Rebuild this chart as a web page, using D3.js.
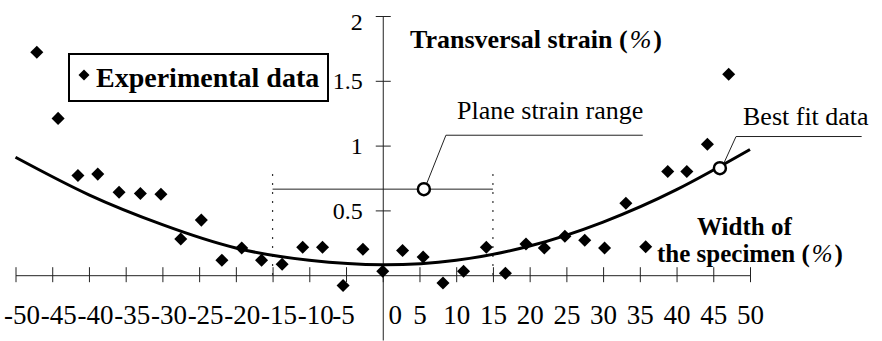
<!DOCTYPE html>
<html>
<head>
<meta charset="utf-8">
<script src="https://cdn.jsdelivr.net/npm/d3@7"></script>
<style>
  body { margin: 0; background: #fff; }
  svg { display: block; font-family: "Liberation Serif", "Times New Roman", serif; }
</style>
</head>
<body>
<div class="canvas"></div>
<script>
// experimental data
const widthPct = [-47.1, -44.2, -41.5, -38.8, -35.9, -33.0, -30.2, -27.5, -24.7, -21.9, -19.2, -16.5,
  -13.7, -10.9, -8.2, -5.4, -2.7, 0, 2.7, 5.5, 8.2, 11.0, 14.1, 16.7, 19.5, 22.0, 24.8, 27.5, 30.2,
  33.1, 35.8, 38.8, 41.4, 44.2, 47.1];
const strain = [1.72, 1.21, 0.77, 0.78, 0.64, 0.63, 0.625, 0.28, 0.425, 0.116, 0.21, 0.116,
  0.085, 0.216, 0.216, -0.08, 0.2, 0.03, 0.19, 0.14, -0.06, 0.03, 0.216, 0.015, 0.24, 0.21, 0.30, 0.27, 0.21,
  0.555, 0.22, 0.80, 0.80, 1.01, 1.55];

// best fit curve
const fitX = [-50, -40, -30, -20, -10, 0, 10, 20, 30, 40, 50];
const fitY = [0.91, 0.62, 0.39, 0.21, 0.115, 0.08, 0.115, 0.225, 0.41, 0.66, 0.97];

// marked points
const bestFit = [45.9, 0.826];
const planeStrain = { from: -15, to: 15, level: 0.664, top: 0.78, mark: 5.6 };

// ticks
const xTicks = [-50, -45, -40, -35, -30, -25, -20, -15, -10, -5, 0, 5, 10, 15, 20, 25, 30, 35, 40, 45, 50];
const yTicks = [0.5, 1, 1.5, 2];

const width = 882, height = 341;

const svg = d3.select('.canvas')
  .append('svg')
  .attr('width', width)
  .attr('height', height);

// scales
const x = d3.scaleLinear().domain([-50, 50]).range([15.5, 750]);
const y = d3.scaleLinear().domain([-0.5, 2]).range([340, 16]);

// x axis
const xAxis = d3.axisBottom(x)
  .tickValues(xTicks)
  .tickSize(8)
  .tickPadding(22)
  .tickSizeOuter(0)
  .tickFormat(d => d);

const xaxisGroup = svg.append('g')
  .attr('transform', `translate(0, ${y(0)})`)
  .call(xAxis);

xaxisGroup.select('.domain').attr('stroke', '#222');
xaxisGroup.selectAll('.tick line')
  .attr('y1', -8).attr('y2', 7).attr('stroke', '#222');
xaxisGroup.selectAll('.tick text')
  .attr('font-size', 27)
  .attr('font-family', '"Liberation Serif", "Times New Roman", serif')
  .attr('fill', '#000')
  .attr('dx', d => d === 0 ? 12 : d === -5 ? -3 : d < 0 ? 6 : 0);

// y axis
const yAxis = d3.axisLeft(y)
  .tickValues(yTicks)
  .tickSize(7)
  .tickPadding(13)
  .tickSizeOuter(0)
  .tickFormat(d => d);

const yaxisGroup = svg.append('g')
  .attr('transform', `translate(${x(0)}, 0)`)
  .call(yAxis);

yaxisGroup.select('.domain').attr('stroke', '#222');
yaxisGroup.selectAll('.tick line')
  .attr('x1', -7).attr('x2', 8).attr('stroke', '#222');
yaxisGroup.selectAll('.tick text')
  .attr('font-size', 24)
  .attr('font-family', '"Liberation Serif", "Times New Roman", serif')
  .attr('fill', '#000')
  .attr('dy', d => d === 2 ? '0.55em' : '0.32em');

// plane strain range bracket
const ps = svg.append('g');
ps.selectAll('line.dot')
  .data([planeStrain.from, planeStrain.to])
  .enter().append('line')
    .attr('x1', d => x(d)).attr('x2', d => x(d))
    .attr('y1', y(planeStrain.top)).attr('y2', y(0))
    .attr('stroke', '#333')
    .attr('stroke-width', 1.2)
    .attr('stroke-dasharray', '2,7');
ps.append('line')
  .attr('x1', x(planeStrain.from)).attr('x2', x(planeStrain.to))
  .attr('y1', y(planeStrain.level)).attr('y2', y(planeStrain.level))
  .attr('stroke', '#222');

// fitted curve
const line = d3.line()
  .curve(d3.curveNatural)
  .x(d => x(d[0]))
  .y(d => y(d[1]));

svg.append('path')
  .datum(fitX.map((v, i) => [v, fitY[i]]))
  .attr('fill', 'none')
  .attr('stroke', '#000')
  .attr('stroke-width', 3)
  .attr('d', line);

// annotation leaders
svg.append('path')
  .attr('fill', 'none')
  .attr('stroke', '#222')
  .attr('d', `M${x(planeStrain.mark) + 3},${y(planeStrain.level) - 6} L${x(8.6)},${y(1.08)} H${x(35.4)}`);

svg.append('path')
  .attr('fill', 'none')
  .attr('stroke', '#222')
  .attr('d', `M${x(bestFit[0]) + 4},${y(bestFit[1]) - 5} L${x(48.1)},${y(1.07)} H${x(65.2)}`);

// experimental points
const diamond = d3.symbol().type(d3.symbolSquare).size(85);

svg.append('g')
  .selectAll('path')
  .data(widthPct.map((v, i) => [v, strain[i]]))
  .enter().append('path')
    .attr('d', diamond)
    .attr('transform', d => `translate(${x(d[0])}, ${y(d[1])}) rotate(45)`)
    .attr('fill', '#000');

// open circles
svg.append('g')
  .selectAll('circle')
  .data([[planeStrain.mark, planeStrain.level], bestFit])
  .enter().append('circle')
    .attr('cx', d => x(d[0]))
    .attr('cy', d => y(d[1]))
    .attr('r', 6)
    .attr('fill', '#fff')
    .attr('stroke', '#000')
    .attr('stroke-width', 2.5);

// texts
svg.append('text')
  .attr('x', 457).attr('y', 119)
  .attr('font-size', 26)
  .text('Plane strain range');

svg.append('text')
  .attr('x', 743).attr('y', 125)
  .attr('font-size', 26)
  .text('Best fit data');

// bold label with a lighter, italic percent sign
const pctLabel = (sel) => {
  sel.append('tspan').text(' (');
  sel.append('tspan').attr('font-weight', 'normal').attr('font-style', 'italic').attr('dx', 2).text('%');
  sel.append('tspan').attr('dx', 2).text(')');
};

const title = svg.append('text')
  .attr('x', 410).attr('y', 48)
  .attr('font-size', 26)
  .attr('font-weight', 'bold');
title.append('tspan').text('Transversal strain');
pctLabel(title);

svg.append('text')
  .attr('x', 697).attr('y', 235)
  .attr('font-size', 25)
  .attr('font-weight', 'bold')
  .text('Width of');

const xTitle = svg.append('text')
  .attr('x', 657).attr('y', 262)
  .attr('font-size', 25)
  .attr('font-weight', 'bold');
xTitle.append('tspan').text('the specimen');
pctLabel(xTitle);

// legend
const legend = svg.append('g');
legend.append('rect')
  .attr('x', 69).attr('y', 54)
  .attr('width', 259).attr('height', 47)
  .attr('fill', '#fff')
  .attr('stroke', '#000')
  .attr('stroke-width', 2);
legend.append('path')
  .attr('d', d3.symbol().type(d3.symbolSquare).size(60))
  .attr('transform', 'translate(84, 75) rotate(45)')
  .attr('fill', '#000');
legend.append('text')
  .attr('x', 96).attr('y', 87)
  .attr('font-size', 28)
  .attr('font-weight', 'bold')
  .text('Experimental data');
</script>
</body>
</html>
